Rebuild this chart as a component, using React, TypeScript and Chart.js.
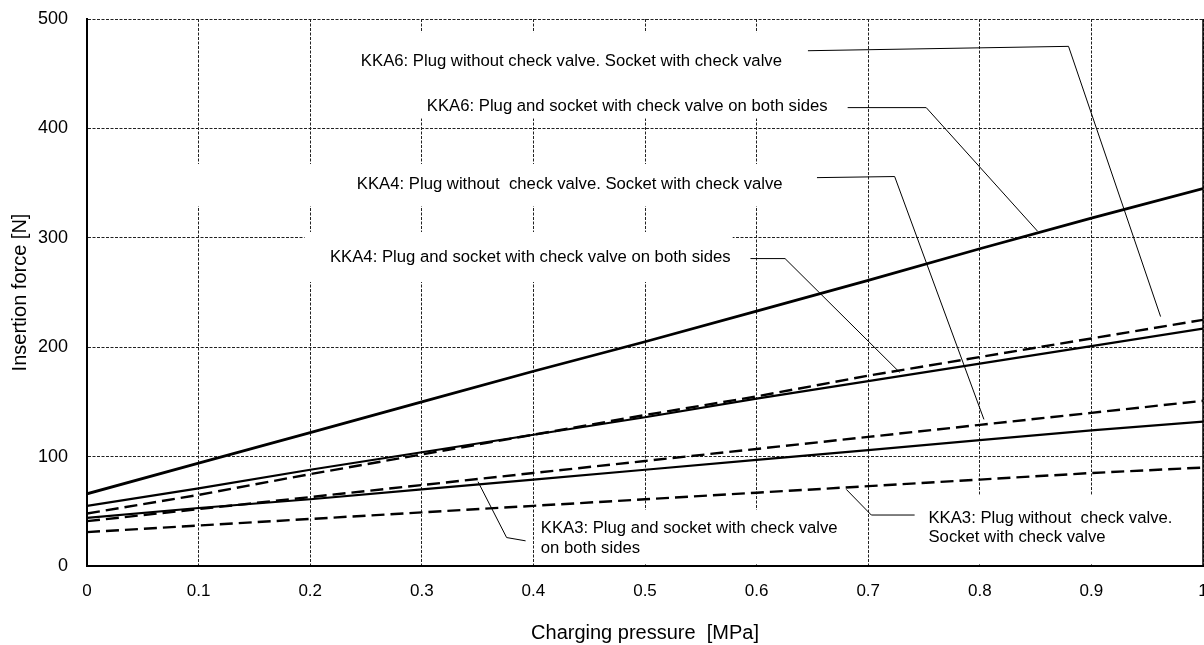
import { useEffect, useRef } from "react";
import { Chart, registerables } from "chart.js";

Chart.register(...registerables);

// ---------- data ----------
const pressureMPa = [0, 0.1, 0.2, 0.3, 0.4, 0.5, 0.6, 0.7, 0.8, 0.9, 1.0];
const xTickLabels = ["0", "0.1", "0.2", "0.3", "0.4", "0.5", "0.6", "0.7", "0.8", "0.9", "1"];
const yTickLabels = ["0", "100", "200", "300", "400", "500"];

const kka6Both = [66, 94, 122, 150, 178, 205, 233, 261, 290, 318, 345];
const kka6PlugOnly = [48, 65, 84, 102, 120, 138, 155, 174, 191, 208, 225];
const kka4Both = [55, 71, 88, 104, 120, 136, 153, 169, 185, 201, 217];
const kka4PlugOnly = [41, 52, 63, 74, 85, 96, 107, 118, 129, 140, 151];
const kka3Both = [44, 53, 61, 70, 79, 88, 97, 106, 115, 124, 132];
const kka3PlugOnly = [31, 37, 43, 49, 55, 61, 67, 73, 79, 85, 90];

// leader lines (data coordinates: pressure, force)
const leaderKka6PlugOnly = [[0.646, 471], [0.8795, 475], [0.962, 228]];
const leaderKka6Both = [[0.6816, 419], [0.752, 419], [0.8518, 306]];
const leaderKka4PlugOnly = [[0.6541, 355], [0.7237, 356], [0.8037, 134]];
const leaderKka4Both = [[0.5945, 281], [0.6255, 281], [0.7282, 177]];
const leaderKka3Both = [[0.393, 23], [0.376, 26], [0.3504, 77]];
const leaderKka3PlugOnly = [[0.6804, 70], [0.7028, 46.6], [0.7416, 46.6]];

// label texts
const textKka6PlugOnly = "KKA6: Plug without check valve. Socket with check valve";
const textKka6Both = "KKA6: Plug and socket with check valve on both sides";
const textKka4PlugOnly = "KKA4: Plug without  check valve. Socket with check valve";
const textKka4Both = "KKA4: Plug and socket with check valve on both sides";
const textKka3Both = ["KKA3: Plug and socket with check valve", "on both sides"];
const textKka3PlugOnly = ["KKA3: Plug without  check valve.", "Socket with check valve"];

// label anchors (data coords of each line's left/middle) and white boxes [x1, y1, x2, y2]
const labelLines: [string, number, number][] = [
  [textKka6PlugOnly, 0.2454, 461],
  [textKka6Both, 0.3045, 420.5],
  [textKka4PlugOnly, 0.2418, 348.5],
  [textKka4Both, 0.2177, 282.5],
  [textKka3Both[0], 0.4066, 34.7],
  [textKka3Both[1], 0.4066, 16.3],
  [textKka3PlugOnly[0], 0.754, 43.9],
  [textKka3PlugOnly[1], 0.754, 26.5],
];
const labelBoxes = [
  [0.21, 488, 0.683, 409],
  [0.05, 367.5, 0.64, 329],
  [0.195, 305.3, 0.5786, 259.6],
  [0.402, 51.2, 0.692, 1.5],
  [0.71, 65.0, 0.995, 1.5],
];

const FONT = '"Liberation Sans", Arial, Helvetica, sans-serif';

function toXY(ys: number[]) {
  return pressureMPa.map((x, i) => ({ x, y: ys[i] }));
}
function toPts(pts: number[][]) {
  return pts.map(([x, y]) => ({ x, y }));
}

const labelPlugin = {
  id: "labelPlugin",
  beforeDatasetsDraw(chart: any) {
    const { ctx, scales } = chart;
    const xs = scales.x;
    const ys = scales.y;
    ctx.save();
    ctx.fillStyle = "#ffffff";
    for (const b of labelBoxes) {
      const x1 = xs.getPixelForValue(b[0]);
      const y1 = ys.getPixelForValue(b[1]);
      const x2 = xs.getPixelForValue(b[2]);
      const y2 = ys.getPixelForValue(b[3]);
      ctx.fillRect(Math.min(x1, x2), Math.min(y1, y2), Math.abs(x2 - x1), Math.abs(y2 - y1));
    }
    ctx.fillStyle = "#000000";
    ctx.font = `16.7px ${FONT}`;
    ctx.textAlign = "left";
    ctx.textBaseline = "middle";
    for (const [t, x, y] of labelLines) {
      ctx.fillText(t, xs.getPixelForValue(x), ys.getPixelForValue(y));
    }
    ctx.restore();
  },
  afterDraw(chart: any) {
    const { ctx, chartArea, scales } = chart;
    const xr = scales.x.getPixelForValue(1);
    ctx.save();
    ctx.strokeStyle = "#000";
    ctx.lineWidth = 1.5;
    ctx.beginPath();
    ctx.moveTo(xr, chartArea.top);
    ctx.lineTo(xr, chartArea.bottom);
    ctx.stroke();
    ctx.restore();
  },
};

export default function App() {
  const canvasRef = useRef<HTMLCanvasElement | null>(null);

  useEffect(() => {
    const canvas = canvasRef.current;
    if (!canvas) return;
    Chart.defaults.font.family = FONT;
    Chart.defaults.color = "#000";

    const solid = (label: string, ys: number[], w: number) => ({
      label,
      data: toXY(ys),
      borderColor: "#000",
      borderWidth: w,
      pointRadius: 0,
      fill: false,
      tension: 0,
    });
    const dashed = (label: string, ys: number[]) => ({
      label,
      data: toXY(ys),
      borderColor: "#000",
      borderWidth: 2.4,
      borderDash: [13, 6],
      pointRadius: 0,
      fill: false,
      tension: 0,
    });
    const leader = (label: string, pts: number[][]) => ({
      label,
      data: toPts(pts),
      borderColor: "#000",
      borderWidth: 1,
      pointRadius: 0,
      fill: false,
      tension: 0,
    });

    const chart = new Chart(canvas, {
      type: "line",
      data: {
        datasets: [
          solid(textKka6Both, kka6Both, 2.8),
          dashed(textKka6PlugOnly, kka6PlugOnly),
          solid(textKka4Both, kka4Both, 2.2),
          dashed(textKka4PlugOnly, kka4PlugOnly),
          solid(textKka3Both.join(" "), kka3Both, 2.2),
          dashed(textKka3PlugOnly.join(" "), kka3PlugOnly),
          leader("leader-kka6-plug", leaderKka6PlugOnly),
          leader("leader-kka6-both", leaderKka6Both),
          leader("leader-kka4-plug", leaderKka4PlugOnly),
          leader("leader-kka4-both", leaderKka4Both),
          leader("leader-kka3-both", leaderKka3Both),
          leader("leader-kka3-plug", leaderKka3PlugOnly),
        ] as any,
      },
      options: {
        responsive: false,
        animation: false,
        devicePixelRatio: 1,
        layout: { padding: { top: 19, right: 27, bottom: 0, left: 0 } },
        plugins: {
          legend: { display: false },
          tooltip: { enabled: false },
          title: { display: false },
        },
        scales: {
          x: {
            type: "linear",
            min: 0,
            max: 1,
            afterFit: (s: any) => {
              s.height = 79;
            },
            ticks: {
              stepSize: 0.1,
              padding: 15,
              font: { size: 17 },
              color: "#000",
              maxRotation: 0,
              autoSkip: false,
              callback: (_v: any, i: number) => xTickLabels[i],
            },
            grid: {
              color: "#222",
              lineWidth: 1,
              drawTicks: false,
            },
            border: { display: true, color: "#000", width: 2, dash: [3, 1.5] },
            title: {
              display: true,
              text: "Charging pressure  [MPa]",
              font: { size: 20 },
              color: "#000",
              padding: { top: 0, bottom: 0 },
            },
          },
          y: {
            type: "linear",
            min: 0,
            max: 500,
            afterFit: (s: any) => {
              s.width = 87;
            },
            ticks: {
              stepSize: 100,
              padding: 0,
              font: { size: 18 },
              color: "#000",
              callback: (_v: any, i: number) => yTickLabels[i],
            },
            grid: {
              color: "#222",
              lineWidth: 1,
              drawTicks: true,
              tickLength: 19,
              tickColor: "rgba(0,0,0,0)",
            },
            border: { display: true, color: "#000", width: 2, dash: [3, 1.5] },
            title: {
              display: true,
              text: "Insertion force [N]",
              font: { size: 20 },
              color: "#000",
              padding: { top: 8, bottom: 0 },
            },
          },
        },
      } as any,
      plugins: [labelPlugin],
    });

    return () => chart.destroy();
  }, []);

  return (
    <div
      style={{
        position: "fixed",
        left: 0,
        top: 0,
        width: 1204,
        height: 645,
        overflow: "hidden",
        background: "#fff",
      }}
    >
      <canvas ref={canvasRef} width={1230} height={645} style={{ width: 1230, height: 645, display: "block" }} />
    </div>
  );
}
